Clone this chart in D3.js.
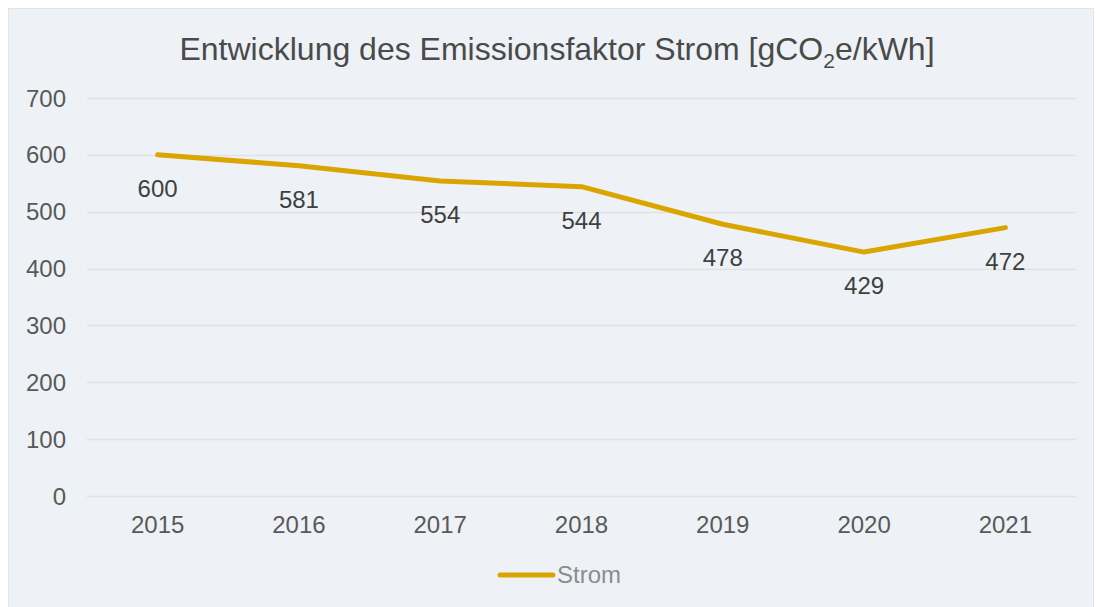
<!DOCTYPE html>
<html>
<head>
<meta charset="utf-8">
<script src="https://cdn.jsdelivr.net/npm/d3@7"></script>
<style>
  body { margin: 0; background: #fff; }
  svg { display: block; font-family: "Liberation Sans", Arial, sans-serif; }
</style>
</head>
<body>
<div id="chart"></div>
<script>
var w = 1097;
var h = 607;

// data
var years = ["2015", "2016", "2017", "2018", "2019", "2020", "2021"];
var strom = [600, 581, 554, 544, 478, 429, 472];
var yTicks = [0, 100, 200, 300, 400, 500, 600, 700];

var svg = d3.select("#chart").append("svg")
  .attr("width", w)
  .attr("height", h);

// panel background
svg.append("rect")
  .attr("x", 8.5).attr("y", 8.5)
  .attr("width", w - 12).attr("height", h)
  .attr("fill", "#eef2f6")
  .attr("stroke", "#e2e4e6");

var x = d3.scaleBand().domain(years).range([87, 1076]);
var y = d3.scaleLinear().domain([0, 700]).range([496, 98]);

// grid lines
svg.append("g").selectAll("line")
  .data(yTicks)
  .enter().append("line")
  .attr("x1", 87).attr("x2", 1076)
  .attr("y1", function(d) { return Math.round(y(d)) + 0.5; })
  .attr("y2", function(d) { return Math.round(y(d)) + 0.5; })
  .attr("stroke", "#dfe1e3")
  .attr("stroke-width", 1.3);

// y axis labels
svg.append("g").selectAll("text")
  .data(yTicks)
  .enter().append("text")
  .attr("x", 66)
  .attr("y", function(d) { return y(d) + 8.5; })
  .attr("text-anchor", "end")
  .attr("font-size", 24)
  .attr("fill", "#595959")
  .text(function(d) { return d; });

// x axis labels
svg.append("g").selectAll("text")
  .data(years)
  .enter().append("text")
  .attr("x", function(d) { return x(d) + x.bandwidth() / 2; })
  .attr("y", 533)
  .attr("text-anchor", "middle")
  .attr("font-size", 24)
  .attr("fill", "#595959")
  .text(function(d) { return d; });

// line
var line = d3.line()
  .x(function(d, i) { return x(years[i]) + x.bandwidth() / 2; })
  .y(function(d) { return y(d); });

svg.append("path")
  .datum(strom)
  .attr("d", line)
  .attr("fill", "none")
  .attr("stroke", "#dba500")
  .attr("stroke-width", 5)
  .attr("stroke-linejoin", "round")
  .attr("stroke-linecap", "round");

// data labels
svg.append("g").selectAll("text")
  .data(strom)
  .enter().append("text")
  .attr("x", function(d, i) { return x(years[i]) + x.bandwidth() / 2; })
  .attr("y", function(d) { return y(d) + 42; })
  .attr("text-anchor", "middle")
  .attr("font-size", 24)
  .attr("fill", "#404040")
  .text(function(d) { return d; });

// title
var title = svg.append("text")
  .attr("x", 557)
  .attr("y", 60)
  .attr("text-anchor", "middle")
  .attr("font-size", 32)
  .attr("fill", "#4a4a4a");
title.append("tspan").text("Entwicklung des Emissionsfaktor Strom [gCO");
title.append("tspan").attr("font-size", 21).attr("dy", 8).text("2");
title.append("tspan").attr("dy", -8).text("e/kWh]");

// legend
svg.append("line")
  .attr("x1", 500).attr("x2", 553)
  .attr("y1", 575).attr("y2", 575)
  .attr("stroke", "#dba500")
  .attr("stroke-width", 5)
  .attr("stroke-linecap", "round");
svg.append("text")
  .attr("x", 557).attr("y", 583)
  .attr("font-size", 24)
  .attr("fill", "#8c8c8c")
  .text("Strom");
</script>
</body>
</html>
